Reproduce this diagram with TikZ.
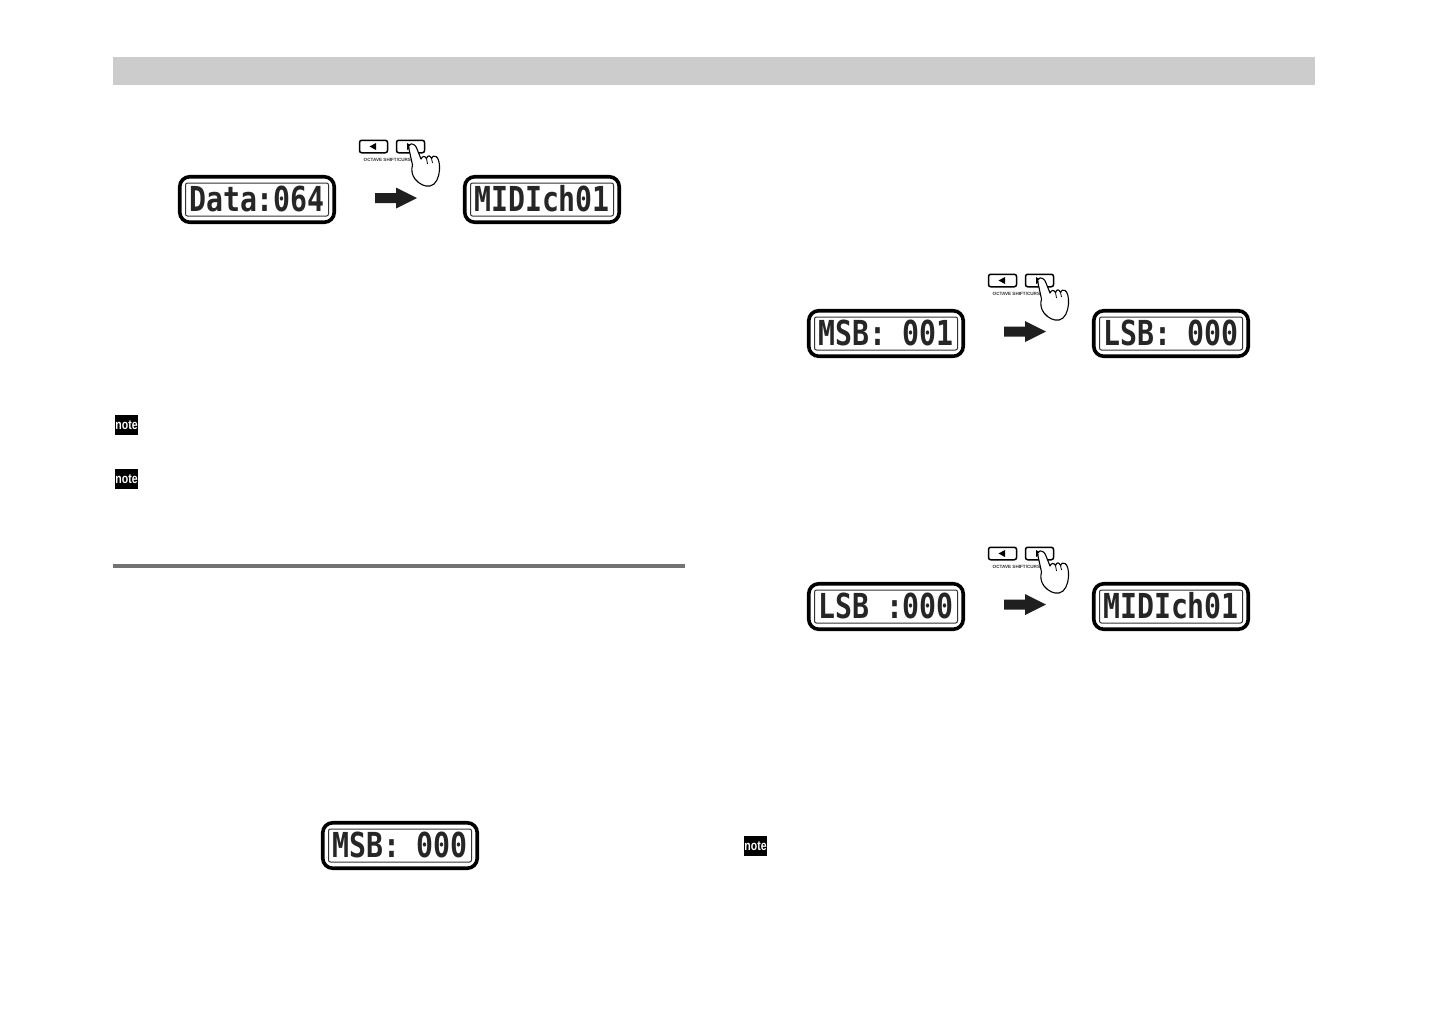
\documentclass[tikz,border=0pt]{standalone}
\usepackage{fontspec}
\setmainfont{Liberation Sans}
\newfontfamily\lcdfont{DejaVu Sans Mono}
\tikzset{
  x=1pt,y=-1pt,
  headerbar/.style={fill=black!20,draw=none},
  rulebar/.style={fill=black!55,draw=none},
  lcdouter/.style={draw=black,fill=white,line width=3.6pt,rounded corners=10pt,minimum width=154.5pt,minimum height=45.5pt,inner sep=0pt},
  lcdinner/.style={draw=black!80,fill=white,line width=1pt,rounded corners=2pt,minimum width=143pt,minimum height=33pt,inner sep=0pt},
  lcdtext/.style={font=\lcdfont\bfseries\fontsize{28.2}{30}\selectfont,text=black!85,inner sep=0pt,yscale=1.22,transform shape,anchor=base},
  blockarrow/.style={fill=black!88,draw=none},
  keybtn/.style={draw=black,fill=white,line width=1.5pt,rounded corners=2.2pt,minimum width=28pt,minimum height=12.5pt,inner sep=0pt},
  keylabel/.style={font=\bfseries\fontsize{4.6}{5}\selectfont,text=black!80,inner sep=0pt},
  notebox/.style={fill=black,text=white,font=\bfseries\fontsize{13.5}{13.5}\selectfont,minimum width=23pt,minimum height=20pt,inner sep=0pt},
  handshape/.style={draw=black,fill=white,line width=1.1pt,line join=round}
}
\newcommand{\lcdbox}[4]{%
  \node[lcdouter] (#1) at (#2,#3) {};
  \node[lcdinner] (#1in) at (#1.center) {};
  \path (#1.center) ++(0,11.5) node[lcdtext] (#1txt) {#4};
}
\newcommand{\blockarr}[3]{%
  \coordinate (#1) at (#2,#3);
  \fill[blockarrow] (#1) ++(-21,-5) -- ++(21,0) -- ++(0,-5.5) -- ++(21,10.5) -- ++(-21,10.5) -- ++(0,-5.5) -- ++(-21,0) -- cycle;
}
\newcommand{\keygroup}[3]{%
  \begin{scope}[shift={(#2,#3)}]
    \node[keybtn] (#1L) at (373.5,146.5) {};
    \node[keybtn] (#1R) at (410.5,146.5) {};
    \fill[black] (369.5,146.5) -- (376,143) -- (376,150) -- cycle;
    \fill[black] (413,146.5) -- (407,143) -- (407,150) -- cycle;
    \node[keylabel,anchor=west] (#1lab) at (363.5,160) {OCTAVE SHIFT/CURSOR};
    \filldraw[handshape] (411,144)
      .. controls (408.5,144) and (408.5,147) .. (409,149)
      -- (412.5,165)
      .. controls (411,170) and (412,175) .. (415,179)
      .. controls (419,184) and (425,187) .. (430,186)
      .. controls (436,185) and (439,177) .. (439.5,170)
      .. controls (440,164) and (438.5,157.5) .. (436,156.5)
      .. controls (434,155.5) and (432,156) .. (431.5,158.5)
      .. controls (430,155) and (427.5,155) .. (426.5,158.5)
      .. controls (425,155.5) and (422,156) .. (421,159)
      -- (417,149)
      .. controls (416,145.5) and (413,143.5) .. (411,144) -- cycle;
    \draw[black,line width=0.8pt] (426.5,158.5) -- (427.5,164);
    \draw[black,line width=0.8pt] (431.5,158.5) -- (432.5,163);
  \end{scope}
}
\begin{document}
\begin{tikzpicture}
\useasboundingbox (0,0) rectangle (1456,1034);
\fill[white] (0,0) rectangle (1456,1034);
\fill[headerbar] (113,57) rectangle (1315,85);
\fill[rulebar] (113,563.5) rectangle (685,567.5);

\keygroup{ka}{0}{0}
\lcdbox{da}{257}{199.5}{Data:064}
\lcdbox{db}{542}{199.5}{MIDIch01}
\blockarr{aa}{396}{198}

\keygroup{kb}{629}{134}
\lcdbox{dc}{886}{333.5}{MSB: 001}
\lcdbox{dd}{1171}{333.5}{LSB: 000}
\blockarr{ab}{1025}{331.5}

\keygroup{kc}{629}{407}
\lcdbox{de}{886}{606.5}{LSB :000}
\lcdbox{df}{1171}{606.5}{MIDIch01}
\blockarr{ac}{1025}{604.5}

\lcdbox{dg}{400}{845.5}{MSB: 000}

\node[notebox] (n1) at (126.5,425) {\scalebox{.78}[1]{note}};
\node[notebox] (n2) at (126.5,479) {\scalebox{.78}[1]{note}};
\node[notebox] (n3) at (755.5,846) {\scalebox{.78}[1]{note}};
\end{tikzpicture}
\end{document}
